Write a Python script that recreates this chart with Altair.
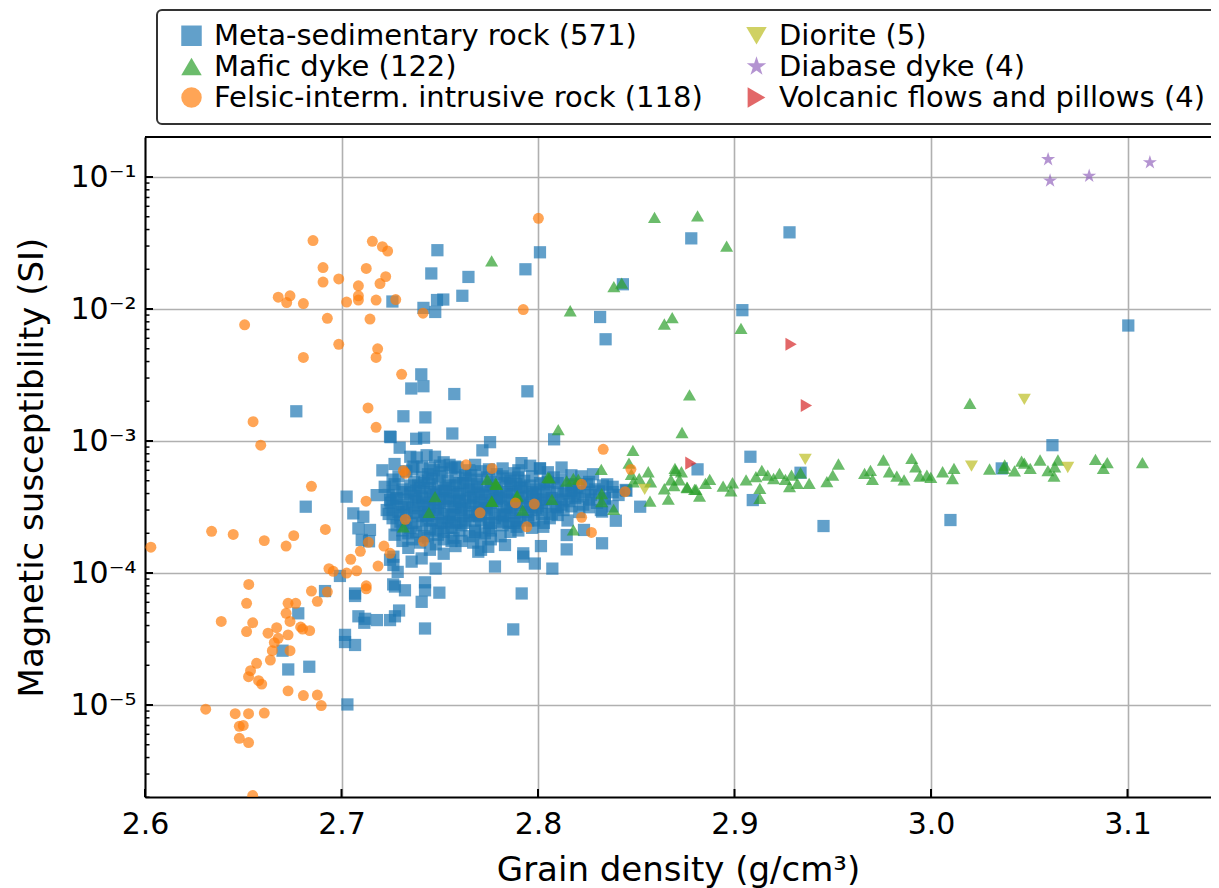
import altair as alt
import pandas as pd

FONT = "DejaVu Sans"

cat_meta = "Meta-sedimentary rock (571)"
cat_mafic = "Mafic dyke (122)"
cat_felsic = "Felsic-interm. intrusive rock (118)"
cat_diorite = "Diorite (5)"
cat_diabase = "Diabase dyke (4)"
cat_volc = "Volcanic flows and pillows (4)"

STAR = ("M0,-1L0.2245,-0.309L0.951,-0.309L0.363,0.118L0.588,0.809L0,0.382"
        "L-0.588,0.809L-0.363,0.118L-0.951,-0.309L-0.2245,-0.309Z")

# legend order (the legend fills its 2 columns top to bottom)
legend_order = [cat_meta, cat_mafic, cat_felsic, cat_diorite, cat_diabase, cat_volc]
legend_colors = ["#1f77b4", "#2ca02c", "#ff7f0e", "#bcbd22", "#9467bd", "#d62728"]
legend_shapes = ["square", "triangle-up", "circle", "triangle-down", STAR, "triangle-right"]
marker_sizes = {cat_meta: 150, cat_mafic: 170, cat_felsic: 120, cat_diorite: 170, cat_diabase: 220, cat_volc: 170}

meta_outliers = [
    (2.7488, 0.0279), (2.7457, 0.0186), (2.7646, 0.0175), (2.7936, 0.0200), (2.8010, 0.0269),
    (2.7615, 0.0126), (2.7259, 0.0114), (2.7417, 0.0102), (2.7486, 0.0117), (2.7518, 0.0118),
    (2.7477, 0.0095), (2.7406, 0.0032), (2.7355, 0.0025), (2.7417, 0.0026), (2.7574, 0.00227),
    (2.7946, 0.00238), (2.6770, 0.00168), (2.7315, 0.00154), (2.7427, 0.00151), (2.7250, 0.00107),
    (2.7564, 0.00114), (2.7756, 0.00098), (2.7717, 0.00085), (2.7296, 0.00089), (2.7380, 0.00104),
    (2.7420, 0.00106), (2.8780, 0.0343), (2.9280, 0.0381), (2.8432, 0.0154), (2.8344, 0.0059),
    (2.8316, 0.0087), (2.9040, 0.0098), (3.1004, 0.0075), (3.0618, 0.00093), (2.9081, 0.00076),
    (2.9093, 0.000357), (2.9336, 0.000575), (2.9453, 0.000227), (3.0099, 0.000252), (3.0360, 0.00062),
    (2.8812, 0.00061), (2.8352, 0.00047), (2.8446, 0.000426), (2.8520, 0.000318), (2.8396, 0.000249),
    (2.8326, 0.000292), (2.8326, 0.000168), (2.8082, 0.00103), (2.7916, 0.00068), (2.8010, 0.00062),
    (2.8320, 0.00030), (2.8146, 0.000194), (2.8146, 0.000151), (2.8234, 0.000212), (2.8015, 0.00016),
    (2.7984, 0.000118), (2.8073, 0.000108), (2.7781, 0.000112), (2.7925, 0.000141), (2.7925, 0.000133),
    (2.7917, 7.0e-5), (2.7874, 3.74e-5), (2.7747, 0.000158), (2.8027, 0.000224), (2.7832, 0.000163),
    (2.7891, 0.000224), (2.7247, 0.00108), (2.7350, 0.00076), (2.7383, 0.00075), (2.7433, 0.00078),
    (2.7476, 0.00076), (2.7208, 0.00060), (2.7366, 0.00064), (2.7450, 0.00062), (2.7500, 0.00065),
    (2.7550, 0.00066), (2.7578, 0.00064), (2.7026, 0.000379), (2.7179, 0.000389), (2.7247, 0.000357),
    (2.7060, 0.000283), (2.7111, 0.000267), (2.7086, 0.000218), (2.7145, 0.000212), (2.7103, 0.000178),
    (2.7140, 0.000174), (2.7247, 0.000126), (2.7264, 0.000133), (2.7264, 0.000115), (2.7286, 0.000102),
    (2.7357, 0.000122), (2.7408, 0.000129), (2.7479, 0.000108), (2.7696, 0.000145), (2.7272, 7.9e-5),
    (2.7323, 7.4e-5), (2.7425, 8.5e-5), (2.7425, 7.4e-5), (2.7498, 7.1e-5), (2.7069, 7.0e-5),
    (2.7069, 6.7e-5), (2.7408, 6.05e-5), (2.7293, 5.2e-5), (2.7272, 4.7e-5), (2.7086, 4.7e-5),
    (2.7120, 4.5e-5), (2.7116, 4.2e-5), (2.7180, 4.4e-5), (2.7247, 4.4e-5), (2.7425, 3.8e-5),
    (2.7018, 3.4e-5), (2.7018, 3.0e-5), (2.7069, 2.85e-5), (2.6818, 0.000318), (2.6916, 7.3e-5),
    (2.6780, 4.95e-5), (2.6700, 2.58e-5), (2.6729, 1.86e-5), (2.6836, 1.95e-5), (2.7030, 1.01e-5),
    (2.6992, 9.5e-5), (2.7263, 8.2e-5),
]

meta_core = [
    (2.727, 6.7e-4), (2.741, 6.4e-4), (2.752, 6.9e-4), (2.759, 6.3e-4), (2.768, 6.6e-4), (2.782, 6.2e-4),
    (2.796, 6.5e-4), (2.812, 6.3e-4),
    (2.733, 5.9e-4), (2.744, 5.6e-4), (2.751, 5.8e-4), (2.763, 5.5e-4), (2.771, 5.9e-4), (2.779, 5.6e-4),
    (2.788, 5.7e-4), (2.805, 5.8e-4), (2.817, 5.5e-4), (2.828, 5.6e-4),
    (2.726, 5.1e-4), (2.737, 4.9e-4), (2.746, 5.2e-4), (2.754, 5.0e-4), (2.760, 4.8e-4), (2.769, 5.1e-4),
    (2.776, 4.9e-4), (2.784, 5.2e-4), (2.793, 5.0e-4), (2.801, 4.8e-4), (2.812, 5.1e-4), (2.826, 4.9e-4),
    (2.818, 4.7e-4),
    (2.722, 4.5e-4), (2.731, 4.3e-4), (2.739, 4.6e-4), (2.745, 4.4e-4), (2.752, 4.2e-4), (2.758, 4.6e-4),
    (2.765, 4.3e-4), (2.772, 4.5e-4), (2.779, 4.2e-4), (2.786, 4.6e-4), (2.792, 4.4e-4), (2.799, 4.3e-4),
    (2.806, 4.5e-4), (2.814, 4.2e-4), (2.821, 4.4e-4), (2.829, 4.3e-4), (2.838, 4.5e-4), (2.845, 4.2e-4),
    (2.724, 3.9e-4), (2.728, 3.7e-4), (2.735, 4.0e-4), (2.741, 3.8e-4), (2.748, 3.9e-4), (2.754, 3.7e-4),
    (2.760, 4.0e-4), (2.767, 3.8e-4), (2.773, 3.9e-4), (2.780, 3.7e-4), (2.787, 4.0e-4), (2.794, 3.8e-4),
    (2.800, 3.9e-4), (2.807, 3.7e-4), (2.813, 4.0e-4), (2.820, 3.8e-4), (2.827, 3.9e-4), (2.834, 3.7e-4),
    (2.841, 3.9e-4),
    (2.725, 3.4e-4), (2.731, 3.3e-4), (2.738, 3.5e-4), (2.744, 3.3e-4), (2.750, 3.4e-4), (2.757, 3.2e-4),
    (2.763, 3.5e-4), (2.770, 3.3e-4), (2.776, 3.4e-4), (2.783, 3.2e-4), (2.789, 3.5e-4), (2.796, 3.3e-4),
    (2.802, 3.4e-4), (2.809, 3.2e-4), (2.816, 3.5e-4), (2.823, 3.3e-4), (2.830, 3.4e-4), (2.838, 3.2e-4),
    (2.723, 3.0e-4), (2.729, 2.9e-4), (2.736, 3.1e-4), (2.742, 2.9e-4), (2.749, 3.0e-4), (2.755, 2.8e-4),
    (2.761, 3.1e-4), (2.768, 2.9e-4), (2.774, 3.0e-4), (2.781, 2.8e-4), (2.787, 3.1e-4), (2.794, 2.9e-4),
    (2.800, 3.0e-4), (2.807, 2.8e-4), (2.813, 3.0e-4), (2.821, 2.9e-4),
    (2.726, 2.6e-4), (2.733, 2.5e-4), (2.739, 2.7e-4), (2.746, 2.5e-4), (2.752, 2.6e-4), (2.758, 2.4e-4),
    (2.765, 2.7e-4), (2.771, 2.5e-4), (2.778, 2.6e-4), (2.785, 2.4e-4), (2.791, 2.6e-4), (2.798, 2.5e-4),
    (2.806, 2.6e-4), (2.815, 2.5e-4),
    (2.728, 2.3e-4), (2.735, 2.2e-4), (2.741, 2.3e-4), (2.748, 2.1e-4), (2.754, 2.2e-4), (2.761, 2.3e-4),
    (2.768, 2.1e-4), (2.775, 2.2e-4), (2.782, 2.3e-4), (2.790, 2.1e-4), (2.797, 2.2e-4),
    (2.727, 1.95e-4), (2.734, 2.0e-4), (2.742, 1.9e-4), (2.749, 1.95e-4), (2.757, 1.85e-4), (2.765, 1.9e-4),
    (2.773, 2.0e-4), (2.781, 1.9e-4),
    (2.731, 1.75e-4), (2.740, 1.7e-4), (2.748, 1.65e-4), (2.756, 1.75e-4), (2.767, 1.7e-4), (2.776, 1.8e-4),
    (2.734, 1.55e-4), (2.745, 1.5e-4), (2.758, 1.6e-4), (2.771, 1.5e-4), (2.752, 1.4e-4),
]

meta_core_fill = [
    (2.736, 6.1e-4), (2.747, 6.0e-4), (2.756, 6.2e-4), (2.765, 6.0e-4), (2.775, 6.1e-4), (2.790, 6.0e-4),
    (2.801, 6.2e-4),
    (2.729, 5.4e-4), (2.741, 5.3e-4), (2.750, 5.4e-4), (2.758, 5.3e-4), (2.766, 5.5e-4), (2.774, 5.3e-4),
    (2.782, 5.4e-4), (2.790, 5.3e-4), (2.797, 5.4e-4), (2.808, 5.3e-4), (2.822, 5.4e-4),
    (2.727, 4.7e-4), (2.735, 4.6e-4), (2.742, 4.8e-4), (2.749, 4.7e-4), (2.755, 4.6e-4), (2.762, 4.8e-4),
    (2.769, 4.7e-4), (2.776, 4.6e-4), (2.783, 4.8e-4), (2.789, 4.7e-4), (2.796, 4.6e-4), (2.803, 4.7e-4),
    (2.810, 4.8e-4), (2.817, 4.6e-4), (2.825, 4.7e-4), (2.833, 4.6e-4),
    (2.726, 4.15e-4), (2.732, 4.1e-4), (2.738, 4.2e-4), (2.745, 4.1e-4), (2.751, 4.15e-4), (2.757, 4.1e-4),
    (2.764, 4.2e-4), (2.770, 4.1e-4), (2.777, 4.15e-4), (2.784, 4.1e-4), (2.790, 4.2e-4), (2.797, 4.1e-4),
    (2.804, 4.15e-4), (2.810, 4.1e-4), (2.817, 4.2e-4), (2.824, 4.1e-4), (2.831, 4.15e-4), (2.838, 4.1e-4),
    (2.728, 3.65e-4), (2.734, 3.6e-4), (2.741, 3.7e-4), (2.747, 3.6e-4), (2.753, 3.65e-4), (2.760, 3.6e-4),
    (2.766, 3.7e-4), (2.773, 3.6e-4), (2.779, 3.65e-4), (2.786, 3.6e-4), (2.792, 3.7e-4), (2.799, 3.6e-4),
    (2.806, 3.65e-4), (2.812, 3.6e-4), (2.819, 3.7e-4), (2.826, 3.6e-4), (2.834, 3.65e-4),
    (2.726, 3.2e-4), (2.732, 3.15e-4), (2.739, 3.25e-4), (2.745, 3.15e-4), (2.752, 3.2e-4), (2.758, 3.15e-4),
    (2.765, 3.25e-4), (2.771, 3.15e-4), (2.777, 3.2e-4), (2.784, 3.15e-4), (2.791, 3.25e-4), (2.797, 3.15e-4),
    (2.804, 3.2e-4), (2.810, 3.15e-4), (2.817, 3.2e-4), (2.826, 3.15e-4),
    (2.724, 2.8e-4), (2.730, 2.75e-4), (2.737, 2.85e-4), (2.743, 2.75e-4), (2.749, 2.8e-4), (2.756, 2.75e-4),
    (2.762, 2.85e-4), (2.769, 2.75e-4), (2.775, 2.8e-4), (2.782, 2.75e-4), (2.788, 2.85e-4), (2.795, 2.75e-4),
    (2.802, 2.8e-4), (2.810, 2.75e-4),
    (2.730, 2.45e-4), (2.736, 2.4e-4), (2.743, 2.5e-4), (2.749, 2.4e-4), (2.755, 2.45e-4), (2.762, 2.4e-4),
    (2.768, 2.5e-4), (2.775, 2.4e-4), (2.782, 2.45e-4), (2.788, 2.4e-4), (2.795, 2.5e-4), (2.803, 2.4e-4),
    (2.731, 2.1e-4), (2.738, 2.05e-4), (2.745, 2.15e-4), (2.752, 2.05e-4), (2.760, 2.1e-4), (2.768, 2.05e-4),
    (2.776, 2.1e-4), (2.786, 2.05e-4),
    (2.736, 1.8e-4), (2.744, 1.85e-4), (2.752, 1.8e-4), (2.761, 1.75e-4), (2.771, 1.85e-4),
]

meta_core_dense = [
    (2.740, 4.4e-4), (2.747, 4.0e-4), (2.753, 4.4e-4), (2.759, 3.9e-4), (2.766, 4.5e-4), (2.771, 4.0e-4),
    (2.778, 4.4e-4), (2.784, 3.9e-4), (2.791, 4.5e-4), (2.797, 4.0e-4), (2.742, 3.4e-4), (2.748, 3.1e-4),
    (2.755, 3.5e-4), (2.761, 3.0e-4), (2.767, 3.4e-4), (2.773, 3.1e-4), (2.779, 3.5e-4), (2.786, 3.0e-4),
    (2.792, 3.4e-4), (2.799, 3.1e-4), (2.744, 2.7e-4), (2.751, 2.4e-4), (2.757, 2.7e-4), (2.763, 2.5e-4),
    (2.770, 2.7e-4), (2.776, 2.4e-4), (2.783, 2.7e-4), (2.789, 2.5e-4), (2.737, 3.8e-4), (2.760, 3.5e-4),
    (2.781, 3.8e-4), (2.803, 3.6e-4), (2.812, 3.3e-4), (2.818, 4.0e-4), (2.733, 2.9e-4), (2.756, 2.2e-4),
    (2.744, 5.0e-4), (2.763, 5.2e-4), (2.786, 5.0e-4), (2.805, 4.9e-4),
]

mafic_points = [
    (2.7764, 0.0232), (2.8164, 0.0097), (2.8683, 0.0086), (2.8643, 0.0077), (2.8771, 0.00224),
    (2.8733, 0.00116), (2.8103, 0.00122), (2.8483, 0.00085), (2.8322, 0.00061), (2.8463, 0.00068),
    (2.8561, 0.000585), (2.8475, 0.00056), (2.8515, 0.00052), (2.8573, 0.00049), (2.8485, 0.00049),
    (2.8700, 0.00060), (2.8730, 0.000585), (2.8677, 0.000507), (2.8720, 0.000507), (2.8692, 0.00046),
    (2.8760, 0.000443), (2.8804, 0.00043), (2.8643, 0.000435), (2.8663, 0.000363), (2.8570, 0.000351),
    (2.8324, 0.00040), (2.8324, 0.000347), (2.8385, 0.000304), (2.8180, 0.000212), (2.8058, 0.000525),
    (2.8146, 0.000498), (2.8205, 0.000513), (2.8071, 0.000361), (2.7922, 0.00030), (2.7895, 0.000385),
    (2.7766, 0.000349), (2.7742, 0.000513), (2.7786, 0.00047), (2.7476, 0.000379), (2.7445, 0.000288),
    (2.7315, 0.000224), (2.7784, 0.00048), (2.7764, 0.000351), (2.7891, 0.00038), (2.7789, 0.00047),
    (2.8050, 0.00053), (2.8180, 0.00052), (2.8593, 0.0495), (2.8812, 0.0507), (2.8960, 0.0300),
    (2.8386, 0.0148), (2.8426, 0.0157), (2.9033, 0.00714), (3.0198, 0.00193), (2.8697, 0.00062),
    (2.8758, 0.000447), (2.8797, 0.00043), (2.8822, 0.000383), (2.8852, 0.000478), (2.8874, 0.000513),
    (2.8942, 0.000456), (2.8982, 0.00042), (2.8990, 0.000483), (2.9059, 0.000507), (2.9109, 0.000537),
    (2.9139, 0.00060), (2.9129, 0.000438), (2.9129, 0.000368), (2.9169, 0.000552), (2.9199, 0.00052),
    (2.9229, 0.000569), (2.9259, 0.000513), (2.9290, 0.000552), (2.9280, 0.000451), (2.9320, 0.000478),
    (2.9336, 0.000575), (2.9380, 0.000478), (2.9470, 0.000492), (2.9500, 0.000552), (2.9529, 0.00067),
    (2.9662, 0.000569), (2.9692, 0.00060), (2.9702, 0.000513), (2.9758, 0.000718), (2.9788, 0.000585),
    (2.9826, 0.000543), (2.9863, 0.000507), (2.9902, 0.00074), (2.9922, 0.000638), (2.9943, 0.000543),
    (2.9979, 0.000552), (2.9999, 0.000531), (3.0059, 0.000585), (3.0109, 0.00052), (3.0117, 0.00062),
    (3.0298, 0.000614), (3.0375, 0.000658), (3.0425, 0.000593), (3.0461, 0.000705), (3.0475, 0.00068),
    (3.0505, 0.00062), (3.0555, 0.000718), (3.0595, 0.000596), (3.0626, 0.000543), (3.0630, 0.000638),
    (3.0646, 0.000718), (3.0837, 0.000726), (3.0897, 0.000686), (3.0877, 0.00062), (3.1076, 0.000686),
    (3.0370, 0.00062),
]

felsic_points = [
    (2.6855, 0.033), (2.6906, 0.0206), (2.6906, 0.016), (2.6986, 0.0169), (2.6678, 0.0123),
    (2.6738, 0.0126), (2.6721, 0.0112), (2.6806, 0.011), (2.6507, 0.0076), (2.6928, 0.0085),
    (2.6986, 0.0054), (2.6806, 0.0043), (2.7026, 0.0113), (2.7086, 0.015), (2.7086, 0.0126),
    (2.7086, 0.0117), (2.7126, 0.0203), (2.7157, 0.0326), (2.7208, 0.0297), (2.7235, 0.0275),
    (2.7225, 0.0176), (2.7196, 0.0156), (2.7176, 0.0117), (2.7276, 0.0118), (2.7145, 0.0084),
    (2.7184, 0.0050), (2.7176, 0.0043), (2.7306, 0.0032), (2.7415, 0.0093), (2.7135, 0.00178),
    (2.7176, 0.00127), (2.6550, 0.0014), (2.6589, 0.00093), (2.7925, 0.0099), (2.8002, 0.0487),
    (2.6847, 0.000454), (2.6339, 0.000207), (2.6449, 0.000196), (2.6607, 0.000176), (2.6718, 0.00016),
    (2.6757, 0.000192), (2.6918, 0.000214), (2.6030, 0.000157), (2.6528, 8.2e-5), (2.6517, 5.9e-5),
    (2.6388, 4.3e-5), (2.6548, 4.2e-5), (2.6517, 3.6e-5), (2.6626, 3.5e-5), (2.6670, 3.85e-5),
    (2.6678, 3.2e-5), (2.6658, 2.97e-5), (2.6648, 2.58e-5), (2.6638, 2.19e-5), (2.6568, 2.07e-5),
    (2.6537, 1.82e-5), (2.6527, 1.64e-5), (2.6578, 1.53e-5), (2.6594, 1.44e-5), (2.6728, 1.28e-5),
    (2.6806, 1.18e-5), (2.6877, 1.19e-5), (2.6897, 9.9e-6), (2.6309, 9.3e-6), (2.6459, 8.6e-6),
    (2.6527, 8.6e-6), (2.6607, 8.7e-6), (2.6480, 6.9e-6), (2.6500, 7.0e-6), (2.6480, 5.6e-6),
    (2.6527, 5.2e-6), (2.6548, 2.06e-6), (2.6728, 5.9e-5), (2.6767, 5.9e-5), (2.6718, 4.95e-5),
    (2.6738, 4.3e-5), (2.6728, 3.4e-5), (2.6738, 2.58e-5), (2.6792, 3.9e-5), (2.6802, 3.76e-5),
    (2.6838, 3.66e-5), (2.6847, 7.3e-5), (2.6877, 6.1e-5), (2.6928, 7.2e-5), (2.6936, 0.000108),
    (2.6958, 0.000103), (2.7026, 0.000100), (2.7077, 0.000104), (2.7047, 0.000127), (2.7096, 0.000146),
    (2.7137, 0.000171), (2.7216, 0.000160), (2.7247, 0.000141), (2.7186, 0.000113), (2.7126, 8.0e-5),
    (2.7126, 7.6e-5), (2.7125, 0.00035), (2.7325, 0.000255), (2.7417, 0.000174), (2.7315, 0.000596),
    (2.7325, 0.000569), (2.7634, 0.00066), (2.7766, 0.00062), (2.7705, 0.000286), (2.7885, 0.00034),
    (2.7981, 0.000333), (2.7943, 0.000224), (2.8332, 0.000865), (2.8473, 0.00061), (2.8222, 0.00047),
    (2.8443, 0.000413), (2.8222, 0.000264), (2.8272, 0.000203),
]

diorite_points = [(3.0475, 0.00207), (2.9360, 0.000726), (3.0206, 0.000646), (3.0696, 0.00063), (2.8543, 0.00043)]
diabase_points = [(3.0596, 0.136), (3.0606, 0.0938), (3.0805, 0.1018), (3.1114, 0.129)]
volcanic_points = [(2.9288, 0.0054), (2.9366, 0.00186), (3.1460, 0.0039), (2.8778, 0.00068)]

x_ticks = [2.6, 2.7, 2.8, 2.9, 3.0, 3.1]
y_major = [1e-5, 1e-4, 1e-3, 1e-2, 1e-1]
y_minor = [m * 10.0 ** e for e in range(-6, 0) for m in range(2, 10) if 2e-6 <= m * 10.0 ** e <= 0.2]

groups = [
    (cat_meta, meta_outliers + meta_core + meta_core_fill + meta_core_dense),
    (cat_mafic, mafic_points),
    (cat_felsic, felsic_points),
    (cat_diorite, diorite_points),
    (cat_diabase, diabase_points),
    (cat_volc, volcanic_points),
]
rows = []
for cat, pts in groups:
    for x, y in pts:
        rows.append({"rock": cat, "density": x, "chi": y, "msize": marker_sizes[cat]})
df = pd.DataFrame(rows)

# plot area: svg must stay within the 1203px page body
W, H = 1066, 660
x_scale = alt.Scale(domain=[2.6, 2.6 + W / 1965.0], nice=False, zero=False)
y_scale = alt.Scale(type="log", domain=[2.01e-6, 0.201], nice=False)

main = alt.Chart(df).mark_point(filled=True, opacity=0.7, strokeWidth=0, clip=True).encode(
    x=alt.X("density:Q", scale=x_scale, axis=alt.Axis(
        orient="bottom", values=x_ticks, format=".1f", title="Grain density (g/cm³)", ticks=False,
        domain=True, domainColor="black", domainWidth=2, labelFlush=False,
        grid=True, gridColor="#b0b0b0", gridWidth=1.6,
        labelFont=FONT, labelFontSize=30, labelColor="black", labelPadding=12,
        titleFont=FONT, titleFontSize=34, titleFontWeight="normal", titleColor="black", titlePadding=14)),
    y=alt.Y("chi:Q", scale=y_scale, axis=alt.Axis(
        orient="left", values=y_major, ticks=False, domain=True, domainColor="black", domainWidth=2,
        grid=True, gridColor="#b0b0b0", gridWidth=1.6, labelFlush=False,
        labelExpr="['10⁻⁵','10⁻⁴','10⁻³','10⁻²','10⁻¹'][round(log(datum.value)/LN10)+5]",
        labelFont=FONT, labelFontSize=30, labelColor="black", labelPadding=9,
        title="Magnetic susceptibility (SI)", titleFont=FONT, titleFontSize=34, titleFontWeight="normal",
        titleColor="black", titleX=-96, titleY=H / 2, titleAngle=270, titleBaseline="bottom",
        titleAlign="center")),
    color=alt.Color("rock:N", scale=alt.Scale(domain=legend_order, range=legend_colors), legend=alt.Legend(
        title=None, orient="none", legendX=12, legendY=-127, columns=2, columnPadding=30, rowPadding=1,
        labelFont=FONT, labelFontSize=29, labelColor="black", labelLimit=0, labelOffset=8,
        symbolSize=420, symbolStrokeWidth=0, symbolOffset=9, padding=11,
        strokeColor="#333333", cornerRadius=5, fillColor="white")),
    shape=alt.Shape("rock:N", scale=alt.Scale(domain=legend_order, range=legend_shapes)),
    size=alt.Size("msize:Q", scale=None, legend=None),
)

xt_df = pd.DataFrame({"tx": x_ticks})
ymaj_df = pd.DataFrame({"ty": y_major})
ymin_df = pd.DataFrame({"ty": y_minor})
one_df = pd.DataFrame({"k": [0]})

x_major_ticks = alt.Chart(xt_df).mark_rule(color="black", strokeWidth=2).encode(
    x=alt.X("tx:Q", scale=x_scale, axis=None), y=alt.value(H - 8), y2=alt.value(H))
y_major_ticks = alt.Chart(ymaj_df).mark_rule(color="black", strokeWidth=2).encode(
    y=alt.Y("ty:Q", scale=y_scale, axis=None), x=alt.value(0), x2=alt.value(8))
y_minor_ticks = alt.Chart(ymin_df).mark_rule(color="black", strokeWidth=1.5).encode(
    y=alt.Y("ty:Q", scale=y_scale, axis=None), x=alt.value(0), x2=alt.value(4.5))
top_spine = alt.Chart(one_df).mark_rule(color="black", strokeWidth=2).encode(
    x=alt.value(0), x2=alt.value(W + 2), y=alt.value(0))

chart = alt.layer(main, x_major_ticks, y_major_ticks, y_minor_ticks, top_spine).resolve_axis(
    x="independent", y="independent"
).properties(
    width=W, height=H,
    padding={"left": 137, "top": 129, "right": 0, "bottom": 96},
    autosize=alt.AutoSizeParams(type="none"),
).configure(font=FONT).configure_view(stroke=None).configure_legend(strokeWidth=2)

chart.save("out.html", embed_options={"renderer": "svg", "actions": False})
